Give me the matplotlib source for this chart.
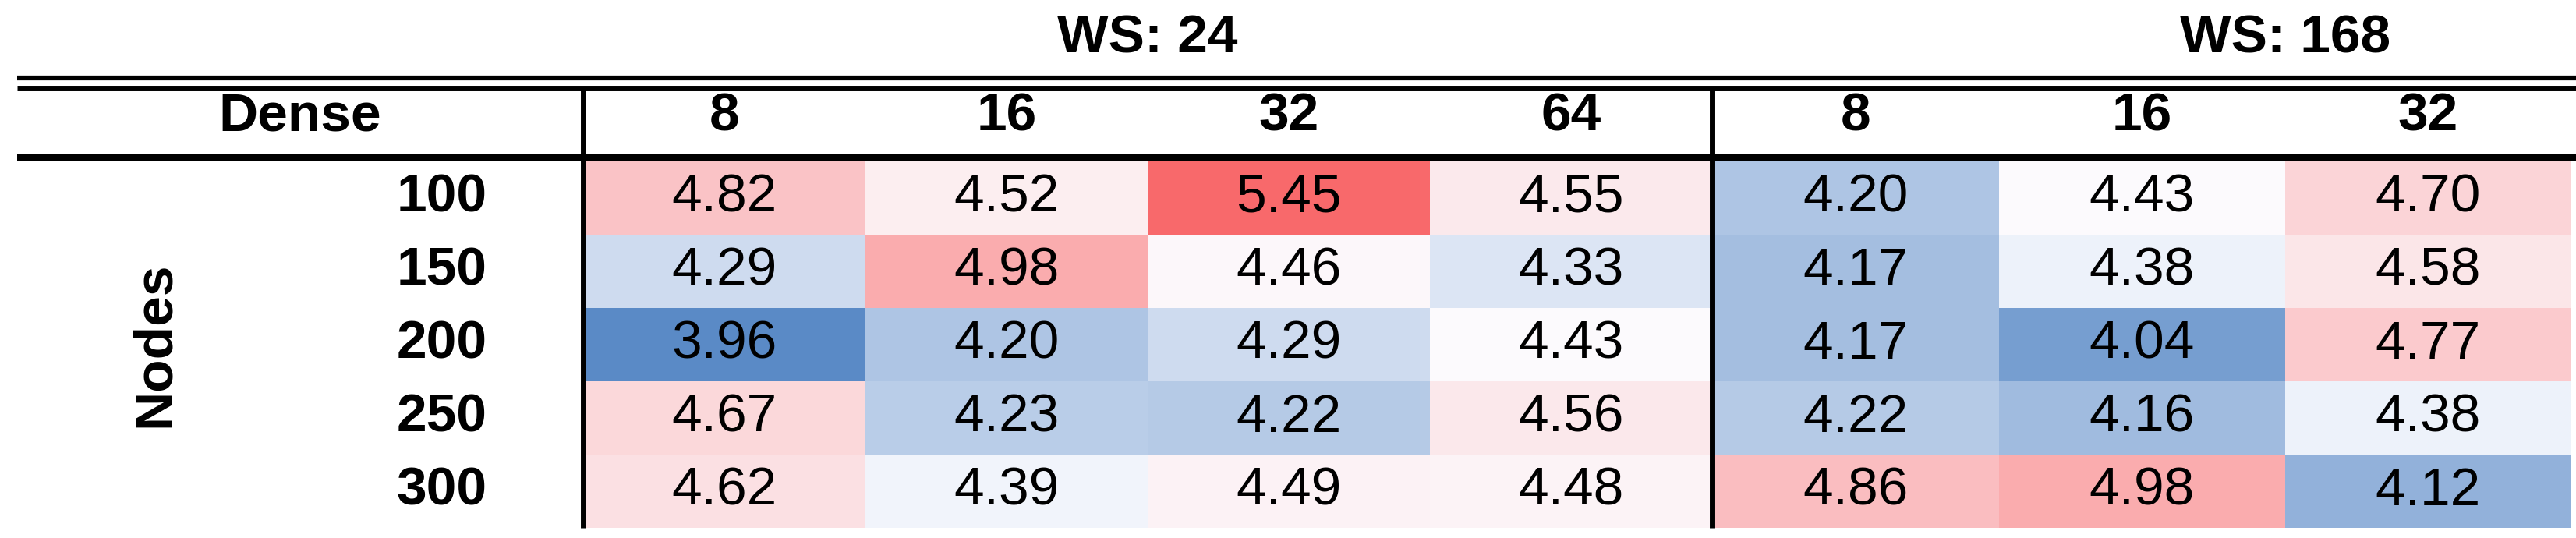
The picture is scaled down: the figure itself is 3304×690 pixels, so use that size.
import numpy as np
import matplotlib
matplotlib.use("Agg")
import matplotlib.pyplot as plt
from matplotlib.colors import LinearSegmentedColormap, TwoSlopeNorm

# ---- data ----
nodes = ["100", "150", "200", "250", "300"]
ws_groups = ["WS: 24", "WS: 168"]
dense_ws24 = ["8", "16", "32", "64"]
dense_ws168 = ["8", "16", "32"]
vals_ws24 = [
    [4.82, 4.52, 5.45, 4.55],
    [4.29, 4.98, 4.46, 4.33],
    [3.96, 4.20, 4.29, 4.43],
    [4.67, 4.23, 4.22, 4.56],
    [4.62, 4.39, 4.49, 4.48],
]
vals_ws168 = [
    [4.20, 4.43, 4.70],
    [4.17, 4.38, 4.58],
    [4.17, 4.04, 4.77],
    [4.22, 4.16, 4.38],
    [4.86, 4.98, 4.12],
]

# ---- styling / layout ----
W, H = 3305, 690
FONT = "Liberation Sans"
FS = 50
cmap = LinearSegmentedColormap.from_list("rwb", ["#5A8AC6", "#FCFCFF", "#F8696B"])
allv = np.concatenate([np.ravel(vals_ws24), np.ravel(vals_ws168)])
norm = TwoSlopeNorm(vmin=allv.min(), vcenter=4.42, vmax=allv.max())

fig = plt.figure(figsize=(W / 100, H / 100), dpi=100)
ax = fig.add_axes([0, 0, 1, 1])
ax.set_xlim(0, W)
ax.set_ylim(H, 0)
ax.axis("off")

row_edges = np.linspace(207, 677, len(nodes) + 1)
row_centers = (row_edges[:-1] + row_edges[1:]) / 2
x24 = np.linspace(748, 2196, len(dense_ws24) + 1)
x168 = 2197 + 367 * np.arange(len(dense_ws168) + 1)

for xe, vals, labels in [(x24, vals_ws24, dense_ws24), (x168, vals_ws168, dense_ws168)]:
    arr = np.array(vals)
    ax.pcolormesh(xe, row_edges, arr, cmap=cmap, norm=norm, shading="flat", zorder=1)
    xc = (xe[:-1] + xe[1:]) / 2
    for j, lab in enumerate(labels):
        ax.text(xc[j], 150, lab, ha="center", va="center", fontsize=FS,
                fontweight="bold", family=FONT)
    for i in range(arr.shape[0]):
        for j in range(arr.shape[1]):
            ax.text(xc[j], row_centers[i], f"{arr[i, j]:.2f}", ha="center",
                    va="center", fontsize=FS, family=FONT)

# group headers
ax.text((x24[0] + x24[-1]) / 2, 50, ws_groups[0], ha="center", va="center",
        fontsize=FS, fontweight="bold", family=FONT)
ax.text(x168[0] + 2 * 367, 50, ws_groups[1], ha="center", va="center",
        fontsize=FS, fontweight="bold", family=FONT)

ax.text(385, 150, "Dense", ha="center", va="center", fontsize=FS,
        fontweight="bold", family=FONT)
for i, lab in enumerate(nodes):
    ax.text(625, row_centers[i], lab, ha="right", va="center", fontsize=FS,
            fontweight="bold", family=FONT)
ax.text(199, row_centers.mean(), "Nodes", ha="center", va="center", rotation=90,
        fontsize=FS, fontweight="bold", family=FONT)

# rules
ax.plot([22, W], [100, 100], color="black", lw=4.5, solid_capstyle="butt", zorder=3)
ax.plot([22, W], [112.5, 112.5], color="black", lw=5, solid_capstyle="butt", zorder=3)
ax.plot([22, W], [202, 202], color="black", lw=7, solid_capstyle="butt", zorder=3)
for xv in [748, 2196]:
    ax.plot([xv, xv], [112, 677], color="black", lw=5, solid_capstyle="butt", zorder=3)

fig.savefig("out.png", dpi=100)
